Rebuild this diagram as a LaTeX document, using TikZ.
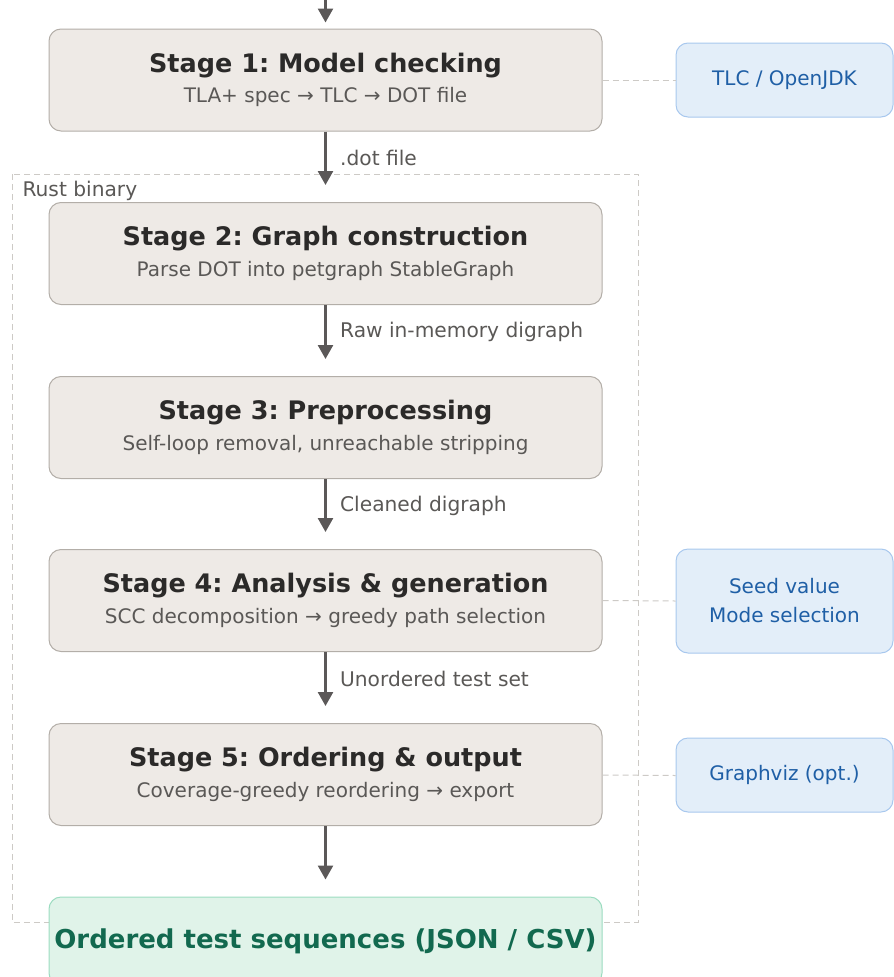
\documentclass[tikz,border=0pt]{standalone}
\usepackage{fontspec}
\setmainfont{DejaVu Sans}
\usetikzlibrary{arrows.meta,positioning}
\frenchspacing

\definecolor{stagefill}{HTML}{EEEAE6}
\definecolor{stageline}{HTML}{B3AEA8}
\definecolor{titlecol}{HTML}{2B2A29}
\definecolor{subcol}{HTML}{5A5856}
\definecolor{sidefill}{HTML}{E3EEF9}
\definecolor{sideline}{HTML}{A8C8EE}
\definecolor{sidetext}{HTML}{1F5FA6}
\definecolor{outfill}{HTML}{E0F3E9}
\definecolor{outline}{HTML}{9BDCC0}
\definecolor{outtext}{HTML}{12694F}
\definecolor{flowcol}{HTML}{5B5858}
\definecolor{dashcol}{HTML}{CDCAC6}

\newcommand{\stitle}[1]{{\fontsize{25.5}{28}\selectfont\bfseries\color{titlecol}#1}}
\newcommand{\ssub}[1]{{\fontsize{20}{22}\selectfont\color{subcol}#1}}

\begin{document}
\begin{tikzpicture}[x=1pt,y=-1pt,
  stage/.style={draw=stageline, fill=stagefill, rounded corners=12pt, line width=1pt,
    minimum width=553pt, minimum height=102pt, align=center, inner sep=0pt},
  side/.style={draw=sideline, fill=sidefill, rounded corners=12pt, line width=1pt,
    minimum width=217pt, align=center, inner sep=0pt, text=sidetext,
    font=\fontsize{20}{29}\selectfont},
  flow/.style={draw=flowcol, line width=2.6pt, -{Triangle[length=14pt,width=15pt]}},
  flowlabel/.style={anchor=west, text=subcol, font=\fontsize{20.2}{22}\selectfont},
  link/.style={draw=dashcol, line width=1pt, dash pattern=on 6pt off 4pt}]
  \useasboundingbox (0,0) rectangle (894,977);

  % Rust binary container
  \draw[link] (12,174) rectangle (638,922);
  \node[flowlabel] (rust) at (19,191) {Rust binary};

  % pipeline stages
  \node[stage] (s1) at (325.5,80) {\stitle{Stage 1: Model checking}\\[9pt]\ssub{TLA+ spec → TLC → DOT file}};
  \node[stage] (s2) at (325.5,253.5) {\stitle{Stage 2: Graph construction}\\[9pt]\ssub{Parse DOT into petgraph StableGraph}};
  \node[stage] (s3) at (325.5,427.5) {\stitle{Stage 3: Preprocessing}\\[9pt]\ssub{Self-loop removal, unreachable stripping}};
  \node[stage] (s4) at (325.5,600.5) {\stitle{Stage 4: Analysis \& generation}\\[9pt]\ssub{SCC decomposition → greedy path selection}};
  \node[stage] (s5) at (325.5,774.5) {\stitle{Stage 5: Ordering \& output}\\[9pt]\ssub{Coverage-greedy reordering → export}};
  \node[draw=outline, fill=outfill, rounded corners=12pt, line width=1pt,
    minimum width=553pt, minimum height=88pt, text=outtext,
    font=\fontsize{26}{28}\selectfont\bfseries] (out) at (325.5,941) {Ordered test sequences (JSON / CSV)};

  % side inputs
  \node[side, minimum height=74pt] (tlc) at (784.5,80) {TLC / OpenJDK};
  \node[side, minimum height=104pt] (seed) at (784.5,601) {Seed value\\Mode selection};
  \node[side, minimum height=74pt] (gviz) at (784.5,775) {Graphviz (opt.)};
  \draw[link] (s1.east) -- (tlc.west);
  \draw[link] (s4.east) -- (seed.west);
  \draw[link] ([yshift=-0.5pt]s5.east) -- ([yshift=-0.5pt]gviz.west);

  % flow
  \coordinate (top) at (325.5,0);
  \draw[flow] (top) -- ([yshift=6pt]s1.north);
  \draw[flow] (s1.south) -- ([yshift=17pt]s2.north) node[flowlabel, midway, xshift=10pt] {.dot file};
  \draw[flow] (s2.south) -- ([yshift=17pt]s3.north) node[flowlabel, midway, xshift=10pt] {Raw in-memory digraph};
  \draw[flow] (s3.south) -- ([yshift=17pt]s4.north) node[flowlabel, midway, xshift=10pt] {Cleaned digraph};
  \draw[flow] (s4.south) -- ([yshift=17pt]s5.north) node[flowlabel, midway, xshift=10pt] {Unordered test set};
  \draw[flow] (s5.south) -- ([yshift=17pt]out.north);
\end{tikzpicture}
\end{document}
